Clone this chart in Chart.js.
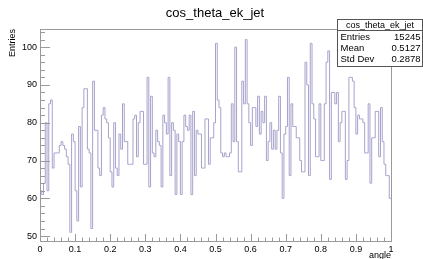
<!DOCTYPE html>
<html>
<head>
<meta charset="utf-8">
<script src="https://cdn.jsdelivr.net/npm/chart.js@4/dist/chart.umd.min.js"></script>
<style>
  html, body { margin: 0; padding: 0; background: #fff; }
  canvas { display: block; }
</style>
</head>
<body>
<canvas id="histo" width="423" height="259"></canvas>
<script>
// histogram cos_theta_ek_jet, 200 bins from 0 to 1
const histTitle = "cos_theta_ek_jet";
const xLabel = "angle";
const yLabel = "Entries";
const xMin = 0;
const xMax = 1;

const binCounts = [
  62, 61, 64, 80, 62, 85, 86, 68, 72, 72,
  72, 74, 75, 74, 73, 71, 69, 51, 77, 75,
  62, 54, 79, 63, 84, 89, 89, 73, 72, 52,
  91, 78, 78, 68, 66, 82, 84, 81, 80, 76,
  67, 63, 80, 68, 66, 77, 73, 85, 75, 75,
  69, 69, 69, 81, 82, 71, 80, 83, 83, 69,
  69, 92, 63, 87, 72, 71, 78, 75, 74, 63,
  82, 80, 77, 92, 66, 80, 78, 61, 77, 75,
  61, 75, 82, 79, 78, 82, 61, 83, 66, 78,
  77, 77, 68, 68, 81, 81, 69, 76, 76, 80,
  101, 86, 84, 72, 71, 72, 71, 71, 72, 85,
  75, 100, 75, 67, 67, 91, 85, 102, 85, 80,
  74, 84, 84, 79, 87, 77, 83, 80, 87, 70,
  75, 80, 73, 78, 73, 78, 87, 72, 60, 77,
  79, 92, 66, 85, 79, 79, 76, 76, 70, 67,
  67, 96, 90, 66, 101, 85, 81, 71, 71, 85,
  70, 70, 85, 96, 99, 65, 88, 88, 85, 88,
  75, 80, 83, 83, 65, 70, 92, 92, 91, 84,
  77, 82, 81, 81, 80, 72, 72, 85, 64, 76,
  76, 83, 83, 71, 84, 75, 69, 66, 66, 60
];

const xTicks = [0, 0.1, 0.2, 0.3, 0.4, 0.5, 0.6, 0.7, 0.8, 0.9, 1];
const yTicks = [50, 60, 70, 80, 90, 100];
const yRange = [48.7, 104.8];

const statsNames = ["Entries", "Mean", "Std Dev"];
const statsValues = ["15245", "0.5127", "0.2878"];

const FONT = "'Liberation Sans', Arial, Helvetica, sans-serif";
const frameColor = "#9a9a9a";
const lineColor = "#a6a2cc";

// step points: left edge of each bin, plus the right edge of the last one
const binWidth = (xMax - xMin) / binCounts.length;
const stepPoints = binCounts.map((v, i) => ({ x: xMin + i * binWidth, y: v }));
stepPoints.push({ x: xMax, y: binCounts[binCounts.length - 1] });

// frame, inward ticks, titles and stat box (ROOT look)
const rootDecor = {
  id: "rootDecor",
  afterDraw(chart) {
    const ctx = chart.ctx;
    const area = chart.chartArea;
    const xs = chart.scales.x;
    const ys = chart.scales.y;

    ctx.save();
    ctx.strokeStyle = frameColor;
    ctx.lineWidth = 1;
    ctx.strokeRect(Math.round(area.left) + 0.5, Math.round(area.top) + 0.5,
      Math.round(area.right - area.left), Math.round(area.bottom - area.top));

    ctx.beginPath();
    // x ticks every 0.02, longer every 0.1
    for (let k = 0; k <= 50; k++) {
      const px = Math.round(xs.getPixelForValue(k * 0.02)) + 0.5;
      const len = k % 5 === 0 ? 7 : 3.5;
      ctx.moveTo(px, area.bottom);
      ctx.lineTo(px, area.bottom - len);
    }
    // y ticks every 2, longer every 10
    for (let v = 50; v <= 104; v += 2) {
      const py = Math.round(ys.getPixelForValue(v)) + 0.5;
      const len = v % 10 === 0 ? 10 : 5;
      ctx.moveTo(area.left, py);
      ctx.lineTo(area.left + len, py);
    }
    ctx.stroke();

    // title
    ctx.fillStyle = "#000";
    ctx.font = "13px " + FONT;
    ctx.textAlign = "center";
    ctx.textBaseline = "alphabetic";
    ctx.fillText(histTitle, 215, 17);

    // axis titles
    ctx.font = "9px " + FONT;
    ctx.textAlign = "right";
    ctx.fillText(xLabel, area.right, 258);
    ctx.save();
    ctx.translate(15, area.top);
    ctx.rotate(-Math.PI / 2);
    ctx.textAlign = "right";
    ctx.fillText(yLabel, 0, 0);
    ctx.restore();

    // stats box
    const bx = 337.5, by = 19.5, bw = 85, bh = 47;
    ctx.fillStyle = "#fff";
    ctx.fillRect(bx, by, bw, bh);
    ctx.strokeStyle = "#555";
    ctx.strokeRect(bx, by, bw, bh);
    ctx.beginPath();
    ctx.moveTo(bx, 30.5);
    ctx.lineTo(bx + bw, 30.5);
    ctx.stroke();
    ctx.fillStyle = "#000";
    ctx.font = "9px " + FONT;
    ctx.textAlign = "center";
    ctx.fillText(histTitle, bx + bw / 2, 28);
    ctx.font = "9.5px " + FONT;
    statsNames.forEach((name, i) => {
      const base = 40 + i * 10.8;
      ctx.textAlign = "left";
      ctx.fillText(name, bx + 3, base);
      ctx.textAlign = "right";
      ctx.fillText(statsValues[i], bx + bw - 2, base);
    });
    ctx.restore();
  }
};

new Chart(document.getElementById("histo"), {
  type: "line",
  data: {
    datasets: [{
      data: stepPoints,
      stepped: "before",
      borderColor: lineColor,
      borderWidth: 1,
      pointRadius: 0,
      fill: false
    }]
  },
  options: {
    responsive: false,
    animation: false,
    devicePixelRatio: 1,
    layout: { padding: { left: 0, top: 29, right: 32, bottom: 0 } },
    plugins: { legend: { display: false }, tooltip: { enabled: false }, title: { display: false } },
    scales: {
      x: {
        type: "linear",
        min: xMin,
        max: xMax,
        grid: { display: false, drawTicks: false },
        border: { display: false },
        afterBuildTicks: (s) => { s.ticks = xTicks.map(v => ({ value: v })); },
        afterFit: (s) => { s.height = 18; },
        ticks: {
          autoSkip: false,
          maxRotation: 0,
          padding: 3,
          color: "#000",
          font: { family: FONT, size: 9 },
          callback: (v) => String(Math.round(v * 10) / 10)
        }
      },
      y: {
        min: yRange[0],
        max: yRange[1],
        grid: { display: false, drawTicks: false },
        border: { display: false },
        afterBuildTicks: (s) => { s.ticks = yTicks.map(v => ({ value: v })); },
        afterFit: (s) => { s.width = 40; },
        ticks: {
          padding: 3,
          color: "#000",
          font: { family: FONT, size: 9 }
        }
      }
    }
  },
  plugins: [rootDecor]
});
</script>
</body>
</html>
